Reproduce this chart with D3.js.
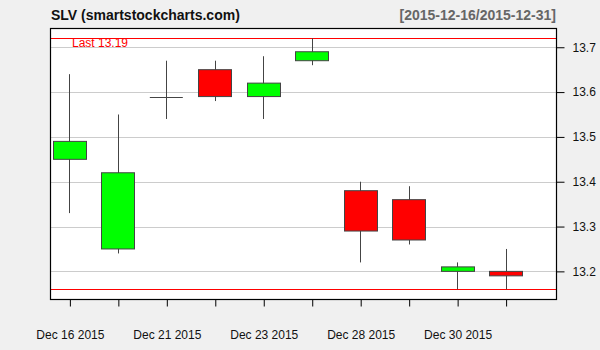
<!DOCTYPE html>
<html><head><meta charset="utf-8">
<script src="https://cdn.jsdelivr.net/npm/d3@7"></script>
<style>
html,body{margin:0;padding:0;background:#f0f0f0;}
svg{display:block;font-family:"Liberation Sans",Arial,sans-serif;}
</style></head>
<body>
<svg id="chart" width="600" height="350"></svg>
<script>
const dates = ["Dec 16 2015","Dec 17 2015","Dec 21 2015","Dec 22 2015","Dec 23 2015","Dec 24 2015","Dec 28 2015","Dec 29 2015","Dec 30 2015","Dec 31 2015"];
const opens  = [13.45,13.25,13.59,13.65,13.59,13.67,13.38,13.36,13.20,13.20];
const highs  = [13.64,13.55,13.67,13.67,13.68,13.72,13.40,13.39,13.22,13.25];
const lows   = [13.33,13.24,13.54,13.58,13.54,13.66,13.22,13.26,13.16,13.16];
const closes = [13.49,13.42,13.59,13.59,13.62,13.69,13.29,13.27,13.21,13.19];
const yTicks = [13.2,13.3,13.4,13.5,13.6,13.7];
const lastValue = 13.19;
const title = "SLV (smartstockcharts.com)";
const rangeLabel = "[2015-12-16/2015-12-31]";

const svg = d3.select("#chart");
const L = 50, R = 556, T = 28, B = 299;

const x = d3.scaleLinear().domain([0.6, 11.04]).range([L, R]);
const yLo = d3.min(lows), yHi = d3.max(highs);
const y = d3.scaleLinear().domain([yLo, yHi]).range([289.3, 38.3]);

svg.append("rect").attr("x", L).attr("y", T).attr("width", R - L).attr("height", B - T).attr("fill", "#fff");

// grid
svg.append("g").selectAll("line").data(yTicks).join("line")
  .attr("x1", L).attr("x2", R)
  .attr("y1", d => Math.round(y(d)) + 0.5).attr("y2", d => Math.round(y(d)) + 0.5)
  .attr("stroke", "#cccccc").attr("stroke-width", 1);

// range lines
svg.append("g").selectAll("line").data([yHi, yLo]).join("line")
  .attr("x1", L).attr("x2", R)
  .attr("y1", d => Math.round(y(d)) + 0.5).attr("y2", d => Math.round(y(d)) + 0.5)
  .attr("stroke", "#ff0000").attr("stroke-width", 1.2);

svg.append("text").attr("x", 72).attr("y", 47).attr("fill", "#ff0000")
  .attr("font-size", 12).text("Last " + lastValue.toFixed(2));

// candles
const idx = d3.range(dates.length);
const bw = 33;
const g = svg.append("g");
g.selectAll("line.wick").data(idx).join("line").attr("class", "wick")
  .attr("x1", i => Math.round(x(i + 1)) + 0.5).attr("x2", i => Math.round(x(i + 1)) + 0.5)
  .attr("y1", i => y(highs[i])).attr("y2", i => y(lows[i]))
  .attr("stroke", "#444").attr("stroke-width", 1);
g.selectAll("rect").data(idx.filter(i => opens[i] !== closes[i])).join("rect")
  .attr("x", i => Math.round(x(i + 1) - bw / 2) + 0.5)
  .attr("width", bw)
  .attr("y", i => y(Math.max(opens[i], closes[i])))
  .attr("height", i => Math.abs(y(opens[i]) - y(closes[i])))
  .attr("fill", i => closes[i] > opens[i] ? "#00ff00" : "#ff0000")
  .attr("stroke", "#444").attr("stroke-width", 1);
g.selectAll("line.doji").data(idx.filter(i => opens[i] === closes[i])).join("line").attr("class", "doji")
  .attr("x1", i => x(i + 1) - bw / 2).attr("x2", i => x(i + 1) + bw / 2)
  .attr("y1", i => Math.round(y(opens[i])) + 0.5).attr("y2", i => Math.round(y(opens[i])) + 0.5)
  .attr("stroke", "#444").attr("stroke-width", 1);

// frame
svg.append("rect").attr("x", L + 0.5).attr("y", T + 0.5).attr("width", R - L).attr("height", B - T)
  .attr("fill", "none").attr("stroke", "#000").attr("stroke-width", 1.2);

// right axis
const yAxis = d3.axisRight(y).tickValues(yTicks).tickSize(8).tickPadding(8).tickFormat(d3.format(".1f"));
const ya = svg.append("g").attr("transform", `translate(${R + 0.5},0)`).call(yAxis);
ya.select(".domain").remove();
ya.selectAll(".tick line").attr("stroke", "#000");
ya.selectAll(".tick text").attr("font-size", 12).attr("fill", "#111").attr("font-family", "Liberation Sans, Arial, sans-serif");

// bottom axis
const xAxis = d3.axisBottom(x).tickValues(idx.map(i => i + 1)).tickSize(7)
  .tickFormat(d => (d - 1) % 2 === 0 ? dates[d - 1] : "").tickPadding(24);
const xa = svg.append("g").attr("transform", `translate(0.5,${B + 0.5})`).call(xAxis);
xa.select(".domain").remove();
xa.selectAll(".tick line").attr("stroke", "#000");
xa.selectAll(".tick text").attr("font-size", 12).attr("fill", "#111").attr("font-family", "Liberation Sans, Arial, sans-serif");

// titles
svg.append("text").attr("x", 51).attr("y", 20).attr("font-size", 14).attr("font-weight", "bold")
  .attr("fill", "#111").text(title);
svg.append("text").attr("x", 556).attr("y", 20).attr("font-size", 14).attr("font-weight", "bold")
  .attr("text-anchor", "end").attr("fill", "#666").text(rangeLabel);
</script>
</body></html>
